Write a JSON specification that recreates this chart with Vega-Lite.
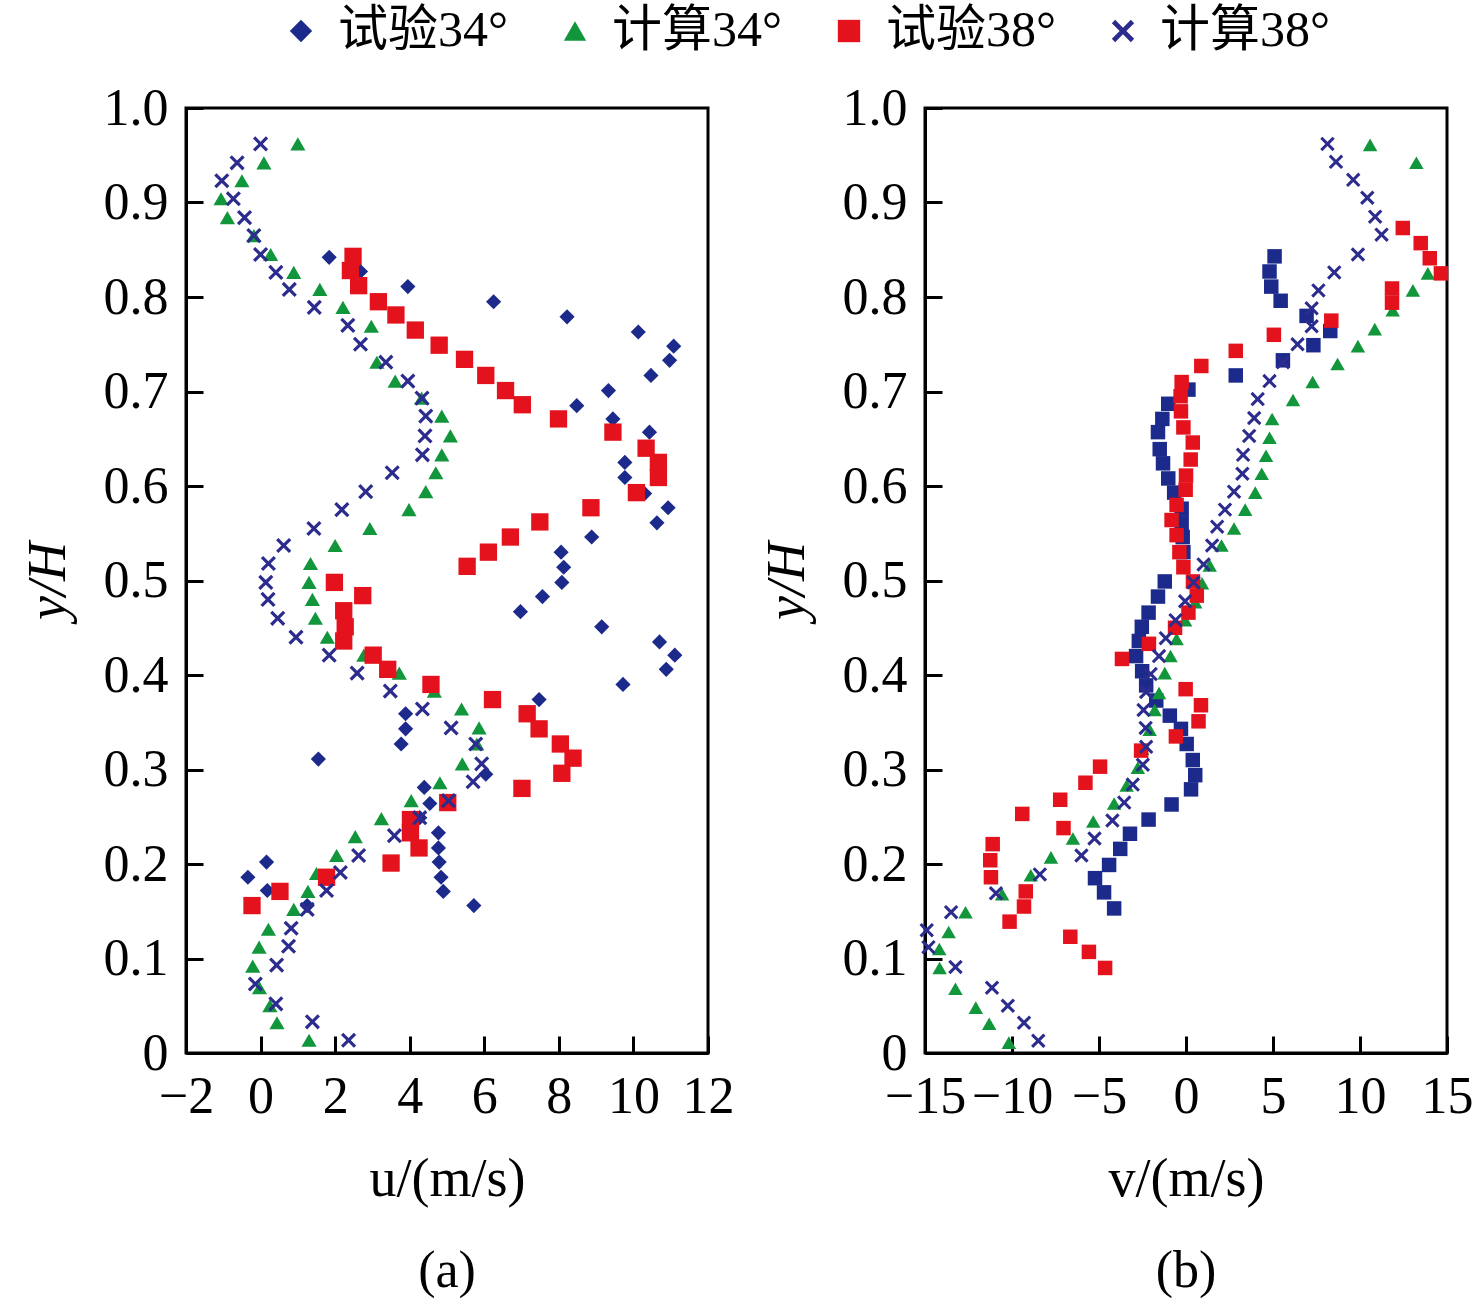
{
  "$schema": "https://vega.github.io/schema/vega-lite/v6.json",
  "description": "Velocity profiles u and v against y/H, test vs. computed, 34° and 38°.",
  "padding": {"left": 19, "top": 6, "right": 5, "bottom": 5},
  "background": "white",
  "config": {
    "view": {"stroke": "black", "strokeWidth": 3},
    "font": "Liberation Serif",
    "axis": {
      "labelFont": "Liberation Serif",
      "labelFontSize": 52,
      "labelColor": "black",
      "titleFont": "Liberation Serif",
      "titleFontSize": 54,
      "titleFontWeight": "normal",
      "titleColor": "black",
      "domainColor": "black",
      "domainWidth": 3,
      "tickColor": "black",
      "tickWidth": 3,
      "tickSize": -17,
      "grid": false,
      "labelFlush": false,
      "labelOverlap": false,
      "labelPadding": 35
    },
    "axisX": {"titlePadding": 30},
    "axisY": {"titlePadding": 28},
    "title": {"font": "Liberation Serif", "fontSize": 52, "fontWeight": "normal", "color": "black"},
    "legend": {
      "orient": "none",
      "legendX": 90,
      "legendY": -102,
      "direction": "horizontal",
      "labelFont": "Liberation Serif, Noto Sans CJK SC",
      "labelFontSize": 50,
      "labelColor": "black",
      "labelLimit": 0,
      "labelOffset": 12,
      "symbolSize": 500,
      "columnPadding": 42,
      "symbolStrokeWidth": 0
    }
  },
  "data": {
    "values": [
      {"p": "a", "s": "试验34°", "x": 1.84, "y": 0.842},
      {"p": "a", "s": "试验34°", "x": 2.68, "y": 0.827},
      {"p": "a", "s": "试验34°", "x": 3.95, "y": 0.811},
      {"p": "a", "s": "试验34°", "x": 6.25, "y": 0.795},
      {"p": "a", "s": "试验34°", "x": 8.22, "y": 0.779},
      {"p": "a", "s": "试验34°", "x": 10.13, "y": 0.763},
      {"p": "a", "s": "试验34°", "x": 11.08, "y": 0.748},
      {"p": "a", "s": "试验34°", "x": 10.97, "y": 0.733},
      {"p": "a", "s": "试验34°", "x": 10.47, "y": 0.717},
      {"p": "a", "s": "试验34°", "x": 9.33, "y": 0.701},
      {"p": "a", "s": "试验34°", "x": 8.48, "y": 0.685},
      {"p": "a", "s": "试验34°", "x": 9.45, "y": 0.671},
      {"p": "a", "s": "试验34°", "x": 10.43, "y": 0.657},
      {"p": "a", "s": "试验34°", "x": 9.77, "y": 0.625},
      {"p": "a", "s": "试验34°", "x": 9.77, "y": 0.609},
      {"p": "a", "s": "试验34°", "x": 10.3, "y": 0.592},
      {"p": "a", "s": "试验34°", "x": 10.93, "y": 0.577},
      {"p": "a", "s": "试验34°", "x": 10.63, "y": 0.561},
      {"p": "a", "s": "试验34°", "x": 8.88, "y": 0.546},
      {"p": "a", "s": "试验34°", "x": 8.06, "y": 0.53},
      {"p": "a", "s": "试验34°", "x": 8.13, "y": 0.514},
      {"p": "a", "s": "试验34°", "x": 8.08, "y": 0.498},
      {"p": "a", "s": "试验34°", "x": 7.56, "y": 0.483},
      {"p": "a", "s": "试验34°", "x": 6.97, "y": 0.467},
      {"p": "a", "s": "试验34°", "x": 9.15, "y": 0.451},
      {"p": "a", "s": "试验34°", "x": 10.7, "y": 0.435},
      {"p": "a", "s": "试验34°", "x": 11.11, "y": 0.421},
      {"p": "a", "s": "试验34°", "x": 10.88, "y": 0.406},
      {"p": "a", "s": "试验34°", "x": 9.72, "y": 0.39},
      {"p": "a", "s": "试验34°", "x": 7.47, "y": 0.374},
      {"p": "a", "s": "试验34°", "x": 3.89, "y": 0.359},
      {"p": "a", "s": "试验34°", "x": 3.89, "y": 0.343},
      {"p": "a", "s": "试验34°", "x": 3.77, "y": 0.327},
      {"p": "a", "s": "试验34°", "x": 1.55, "y": 0.311},
      {"p": "a", "s": "试验34°", "x": 6.04, "y": 0.295},
      {"p": "a", "s": "试验34°", "x": 4.39, "y": 0.281},
      {"p": "a", "s": "试验34°", "x": 4.54, "y": 0.264},
      {"p": "a", "s": "试验34°", "x": 4.27, "y": 0.249},
      {"p": "a", "s": "试验34°", "x": 4.77, "y": 0.233},
      {"p": "a", "s": "试验34°", "x": 4.77, "y": 0.217},
      {"p": "a", "s": "试验34°", "x": 4.79, "y": 0.202},
      {"p": "a", "s": "试验34°", "x": 4.84, "y": 0.186},
      {"p": "a", "s": "试验34°", "x": 4.9, "y": 0.171},
      {"p": "a", "s": "试验34°", "x": 5.72, "y": 0.156},
      {"p": "a", "s": "试验34°", "x": 0.16, "y": 0.202},
      {"p": "a", "s": "试验34°", "x": -0.34, "y": 0.186},
      {"p": "a", "s": "试验34°", "x": 0.18, "y": 0.172},
      {"p": "a", "s": "试验34°", "x": 1.25, "y": 0.156},

      {"p": "a", "s": "计算34°", "x": 1.0, "y": 0.962},
      {"p": "a", "s": "计算34°", "x": 0.09, "y": 0.942},
      {"p": "a", "s": "计算34°", "x": -0.5, "y": 0.923},
      {"p": "a", "s": "计算34°", "x": -1.06, "y": 0.904},
      {"p": "a", "s": "计算34°", "x": -0.89, "y": 0.884},
      {"p": "a", "s": "计算34°", "x": -0.18, "y": 0.865},
      {"p": "a", "s": "计算34°", "x": 0.27, "y": 0.845},
      {"p": "a", "s": "计算34°", "x": 0.89, "y": 0.826},
      {"p": "a", "s": "计算34°", "x": 1.59, "y": 0.808},
      {"p": "a", "s": "计算34°", "x": 2.21, "y": 0.789},
      {"p": "a", "s": "计算34°", "x": 2.97, "y": 0.769},
      {"p": "a", "s": "计算34°", "x": 3.12, "y": 0.731},
      {"p": "a", "s": "计算34°", "x": 3.61, "y": 0.711},
      {"p": "a", "s": "计算34°", "x": 4.32, "y": 0.693},
      {"p": "a", "s": "计算34°", "x": 4.86, "y": 0.674},
      {"p": "a", "s": "计算34°", "x": 5.09, "y": 0.653},
      {"p": "a", "s": "计算34°", "x": 4.86, "y": 0.633},
      {"p": "a", "s": "计算34°", "x": 4.7, "y": 0.614},
      {"p": "a", "s": "计算34°", "x": 4.43, "y": 0.594},
      {"p": "a", "s": "计算34°", "x": 3.98, "y": 0.575},
      {"p": "a", "s": "计算34°", "x": 2.93, "y": 0.555},
      {"p": "a", "s": "计算34°", "x": 2.0, "y": 0.537},
      {"p": "a", "s": "计算34°", "x": 1.34, "y": 0.518},
      {"p": "a", "s": "计算34°", "x": 1.3, "y": 0.498},
      {"p": "a", "s": "计算34°", "x": 1.39, "y": 0.48},
      {"p": "a", "s": "计算34°", "x": 1.47, "y": 0.46},
      {"p": "a", "s": "计算34°", "x": 1.79, "y": 0.44},
      {"p": "a", "s": "计算34°", "x": 2.77, "y": 0.421},
      {"p": "a", "s": "计算34°", "x": 3.72, "y": 0.402},
      {"p": "a", "s": "计算34°", "x": 4.66, "y": 0.383},
      {"p": "a", "s": "计算34°", "x": 5.39, "y": 0.364},
      {"p": "a", "s": "计算34°", "x": 5.86, "y": 0.344},
      {"p": "a", "s": "计算34°", "x": 5.8, "y": 0.327},
      {"p": "a", "s": "计算34°", "x": 5.41, "y": 0.306},
      {"p": "a", "s": "计算34°", "x": 4.81, "y": 0.286},
      {"p": "a", "s": "计算34°", "x": 4.04, "y": 0.267},
      {"p": "a", "s": "计算34°", "x": 3.24, "y": 0.248},
      {"p": "a", "s": "计算34°", "x": 2.54, "y": 0.229},
      {"p": "a", "s": "计算34°", "x": 2.04, "y": 0.209},
      {"p": "a", "s": "计算34°", "x": 1.5, "y": 0.19},
      {"p": "a", "s": "计算34°", "x": 1.27, "y": 0.171},
      {"p": "a", "s": "计算34°", "x": 0.89, "y": 0.152},
      {"p": "a", "s": "计算34°", "x": 0.21, "y": 0.131},
      {"p": "a", "s": "计算34°", "x": -0.04, "y": 0.112},
      {"p": "a", "s": "计算34°", "x": -0.21, "y": 0.092},
      {"p": "a", "s": "计算34°", "x": -0.03, "y": 0.069},
      {"p": "a", "s": "计算34°", "x": 0.25, "y": 0.05},
      {"p": "a", "s": "计算34°", "x": 0.44, "y": 0.032},
      {"p": "a", "s": "计算34°", "x": 1.3, "y": 0.0135},

      {"p": "a", "s": "试验38°", "x": 2.48, "y": 0.843},
      {"p": "a", "s": "试验38°", "x": 2.41, "y": 0.828},
      {"p": "a", "s": "试验38°", "x": 2.63, "y": 0.812},
      {"p": "a", "s": "试验38°", "x": 3.16, "y": 0.795},
      {"p": "a", "s": "试验38°", "x": 3.63, "y": 0.781},
      {"p": "a", "s": "试验38°", "x": 4.15, "y": 0.765},
      {"p": "a", "s": "试验38°", "x": 4.79, "y": 0.749},
      {"p": "a", "s": "试验38°", "x": 5.47, "y": 0.734},
      {"p": "a", "s": "试验38°", "x": 6.04, "y": 0.717},
      {"p": "a", "s": "试验38°", "x": 6.57, "y": 0.701},
      {"p": "a", "s": "试验38°", "x": 7.02, "y": 0.686},
      {"p": "a", "s": "试验38°", "x": 7.99, "y": 0.671},
      {"p": "a", "s": "试验38°", "x": 9.45, "y": 0.657},
      {"p": "a", "s": "试验38°", "x": 10.34, "y": 0.64},
      {"p": "a", "s": "试验38°", "x": 10.67, "y": 0.625},
      {"p": "a", "s": "试验38°", "x": 10.67, "y": 0.609},
      {"p": "a", "s": "试验38°", "x": 10.08, "y": 0.593},
      {"p": "a", "s": "试验38°", "x": 8.86, "y": 0.577},
      {"p": "a", "s": "试验38°", "x": 7.49, "y": 0.562},
      {"p": "a", "s": "试验38°", "x": 6.7, "y": 0.546},
      {"p": "a", "s": "试验38°", "x": 6.11, "y": 0.53},
      {"p": "a", "s": "试验38°", "x": 5.54, "y": 0.515},
      {"p": "a", "s": "试验38°", "x": 1.98, "y": 0.498},
      {"p": "a", "s": "试验38°", "x": 2.74, "y": 0.484},
      {"p": "a", "s": "试验38°", "x": 2.23, "y": 0.468},
      {"p": "a", "s": "试验38°", "x": 2.27, "y": 0.451},
      {"p": "a", "s": "试验38°", "x": 2.23, "y": 0.436},
      {"p": "a", "s": "试验38°", "x": 3.02, "y": 0.421},
      {"p": "a", "s": "试验38°", "x": 3.41, "y": 0.406},
      {"p": "a", "s": "试验38°", "x": 4.57, "y": 0.39},
      {"p": "a", "s": "试验38°", "x": 6.22, "y": 0.374},
      {"p": "a", "s": "试验38°", "x": 7.15, "y": 0.359},
      {"p": "a", "s": "试验38°", "x": 7.47, "y": 0.343},
      {"p": "a", "s": "试验38°", "x": 8.04, "y": 0.327},
      {"p": "a", "s": "试验38°", "x": 8.38, "y": 0.312},
      {"p": "a", "s": "试验38°", "x": 8.08, "y": 0.296},
      {"p": "a", "s": "试验38°", "x": 7.01, "y": 0.28},
      {"p": "a", "s": "试验38°", "x": 5.02, "y": 0.265},
      {"p": "a", "s": "试验38°", "x": 4.02, "y": 0.247},
      {"p": "a", "s": "试验38°", "x": 4.02, "y": 0.233},
      {"p": "a", "s": "试验38°", "x": 4.25, "y": 0.217},
      {"p": "a", "s": "试验38°", "x": 3.5, "y": 0.201},
      {"p": "a", "s": "试验38°", "x": 1.77, "y": 0.186},
      {"p": "a", "s": "试验38°", "x": 0.52, "y": 0.171},
      {"p": "a", "s": "试验38°", "x": -0.23, "y": 0.156},

      {"p": "a", "s": "计算38°", "x": 0.0, "y": 0.962},
      {"p": "a", "s": "计算38°", "x": -0.63, "y": 0.942},
      {"p": "a", "s": "计算38°", "x": -1.04, "y": 0.923},
      {"p": "a", "s": "计算38°", "x": -0.73, "y": 0.904},
      {"p": "a", "s": "计算38°", "x": -0.43, "y": 0.884},
      {"p": "a", "s": "计算38°", "x": -0.18, "y": 0.865},
      {"p": "a", "s": "计算38°", "x": 0.0, "y": 0.845},
      {"p": "a", "s": "计算38°", "x": 0.41, "y": 0.826},
      {"p": "a", "s": "计算38°", "x": 0.77, "y": 0.808},
      {"p": "a", "s": "计算38°", "x": 1.44, "y": 0.789},
      {"p": "a", "s": "计算38°", "x": 2.34, "y": 0.77},
      {"p": "a", "s": "计算38°", "x": 2.68, "y": 0.75},
      {"p": "a", "s": "计算38°", "x": 3.36, "y": 0.731},
      {"p": "a", "s": "计算38°", "x": 3.95, "y": 0.711},
      {"p": "a", "s": "计算38°", "x": 4.33, "y": 0.693},
      {"p": "a", "s": "计算38°", "x": 4.43, "y": 0.674},
      {"p": "a", "s": "计算38°", "x": 4.41, "y": 0.653},
      {"p": "a", "s": "计算38°", "x": 4.34, "y": 0.633},
      {"p": "a", "s": "计算38°", "x": 3.53, "y": 0.614},
      {"p": "a", "s": "计算38°", "x": 2.82, "y": 0.594},
      {"p": "a", "s": "计算38°", "x": 2.18, "y": 0.575},
      {"p": "a", "s": "计算38°", "x": 1.43, "y": 0.555},
      {"p": "a", "s": "计算38°", "x": 0.62, "y": 0.537},
      {"p": "a", "s": "计算38°", "x": 0.21, "y": 0.518},
      {"p": "a", "s": "计算38°", "x": 0.14, "y": 0.498},
      {"p": "a", "s": "计算38°", "x": 0.2, "y": 0.48},
      {"p": "a", "s": "计算38°", "x": 0.46, "y": 0.46},
      {"p": "a", "s": "计算38°", "x": 0.95, "y": 0.44},
      {"p": "a", "s": "计算38°", "x": 1.84, "y": 0.421},
      {"p": "a", "s": "计算38°", "x": 2.59, "y": 0.402},
      {"p": "a", "s": "计算38°", "x": 3.48, "y": 0.383},
      {"p": "a", "s": "计算38°", "x": 4.34, "y": 0.364},
      {"p": "a", "s": "计算38°", "x": 5.11, "y": 0.344},
      {"p": "a", "s": "计算38°", "x": 5.77, "y": 0.327},
      {"p": "a", "s": "计算38°", "x": 5.93, "y": 0.306},
      {"p": "a", "s": "计算38°", "x": 5.7, "y": 0.287},
      {"p": "a", "s": "计算38°", "x": 5.04, "y": 0.267},
      {"p": "a", "s": "计算38°", "x": 4.27, "y": 0.249},
      {"p": "a", "s": "计算38°", "x": 3.59, "y": 0.23},
      {"p": "a", "s": "计算38°", "x": 2.63, "y": 0.209},
      {"p": "a", "s": "计算38°", "x": 2.14, "y": 0.191},
      {"p": "a", "s": "计算38°", "x": 1.77, "y": 0.172},
      {"p": "a", "s": "计算38°", "x": 1.25, "y": 0.152},
      {"p": "a", "s": "计算38°", "x": 0.82, "y": 0.132},
      {"p": "a", "s": "计算38°", "x": 0.75, "y": 0.113},
      {"p": "a", "s": "计算38°", "x": 0.43, "y": 0.093},
      {"p": "a", "s": "计算38°", "x": -0.14, "y": 0.073},
      {"p": "a", "s": "计算38°", "x": 0.41, "y": 0.052},
      {"p": "a", "s": "计算38°", "x": 1.39, "y": 0.033},
      {"p": "a", "s": "计算38°", "x": 2.36, "y": 0.0135},

      {"p": "b", "s": "试验34°", "x": 5.09, "y": 0.843},
      {"p": "b", "s": "试验34°", "x": 4.8, "y": 0.827},
      {"p": "b", "s": "试验34°", "x": 4.9, "y": 0.811},
      {"p": "b", "s": "试验34°", "x": 5.44, "y": 0.796},
      {"p": "b", "s": "试验34°", "x": 6.93, "y": 0.78},
      {"p": "b", "s": "试验34°", "x": 8.29, "y": 0.764},
      {"p": "b", "s": "试验34°", "x": 7.32, "y": 0.749},
      {"p": "b", "s": "试验34°", "x": 5.57, "y": 0.733},
      {"p": "b", "s": "试验34°", "x": 2.86, "y": 0.717},
      {"p": "b", "s": "试验34°", "x": 0.14, "y": 0.702},
      {"p": "b", "s": "试验34°", "x": -1.02, "y": 0.687},
      {"p": "b", "s": "试验34°", "x": -1.36, "y": 0.671},
      {"p": "b", "s": "试验34°", "x": -1.61, "y": 0.657},
      {"p": "b", "s": "试验34°", "x": -1.51, "y": 0.639},
      {"p": "b", "s": "试验34°", "x": -1.32, "y": 0.624},
      {"p": "b", "s": "试验34°", "x": -1.02, "y": 0.608},
      {"p": "b", "s": "试验34°", "x": -0.68, "y": 0.593},
      {"p": "b", "s": "试验34°", "x": -0.25, "y": 0.576},
      {"p": "b", "s": "试验34°", "x": -0.25, "y": 0.561},
      {"p": "b", "s": "试验34°", "x": -0.19, "y": 0.546},
      {"p": "b", "s": "试验34°", "x": -0.15, "y": 0.53},
      {"p": "b", "s": "试验34°", "x": -1.22, "y": 0.499},
      {"p": "b", "s": "试验34°", "x": -1.61, "y": 0.483},
      {"p": "b", "s": "试验34°", "x": -2.15, "y": 0.466},
      {"p": "b", "s": "试验34°", "x": -2.54, "y": 0.451},
      {"p": "b", "s": "试验34°", "x": -2.71, "y": 0.436},
      {"p": "b", "s": "试验34°", "x": -2.87, "y": 0.42},
      {"p": "b", "s": "试验34°", "x": -2.52, "y": 0.404},
      {"p": "b", "s": "试验34°", "x": -2.29, "y": 0.389},
      {"p": "b", "s": "试验34°", "x": -1.71, "y": 0.373},
      {"p": "b", "s": "试验34°", "x": -0.93, "y": 0.357},
      {"p": "b", "s": "试验34°", "x": -0.29, "y": 0.343},
      {"p": "b", "s": "试验34°", "x": 0.04, "y": 0.327},
      {"p": "b", "s": "试验34°", "x": 0.39, "y": 0.31},
      {"p": "b", "s": "试验34°", "x": 0.53, "y": 0.294},
      {"p": "b", "s": "试验34°", "x": 0.29, "y": 0.279},
      {"p": "b", "s": "试验34°", "x": -0.83, "y": 0.263},
      {"p": "b", "s": "试验34°", "x": -2.15, "y": 0.247},
      {"p": "b", "s": "试验34°", "x": -3.22, "y": 0.232},
      {"p": "b", "s": "试验34°", "x": -3.78, "y": 0.216},
      {"p": "b", "s": "试验34°", "x": -4.42, "y": 0.199},
      {"p": "b", "s": "试验34°", "x": -5.23, "y": 0.185},
      {"p": "b", "s": "试验34°", "x": -4.71, "y": 0.17},
      {"p": "b", "s": "试验34°", "x": -4.13, "y": 0.153},

      {"p": "b", "s": "计算34°", "x": 10.58, "y": 0.961},
      {"p": "b", "s": "计算34°", "x": 13.24, "y": 0.942},
      {"p": "b", "s": "计算34°", "x": 13.9, "y": 0.825},
      {"p": "b", "s": "计算34°", "x": 13.04, "y": 0.807},
      {"p": "b", "s": "计算34°", "x": 11.88, "y": 0.786},
      {"p": "b", "s": "计算34°", "x": 10.85, "y": 0.766},
      {"p": "b", "s": "计算34°", "x": 9.88, "y": 0.748},
      {"p": "b", "s": "计算34°", "x": 8.71, "y": 0.729},
      {"p": "b", "s": "计算34°", "x": 7.28, "y": 0.71},
      {"p": "b", "s": "计算34°", "x": 6.15, "y": 0.691},
      {"p": "b", "s": "计算34°", "x": 4.95, "y": 0.671},
      {"p": "b", "s": "计算34°", "x": 4.8, "y": 0.651},
      {"p": "b", "s": "计算34°", "x": 4.6, "y": 0.632},
      {"p": "b", "s": "计算34°", "x": 4.35, "y": 0.613},
      {"p": "b", "s": "计算34°", "x": 3.98, "y": 0.593},
      {"p": "b", "s": "计算34°", "x": 3.4, "y": 0.575},
      {"p": "b", "s": "计算34°", "x": 2.76, "y": 0.555},
      {"p": "b", "s": "计算34°", "x": 2.04, "y": 0.537},
      {"p": "b", "s": "计算34°", "x": 1.36, "y": 0.516},
      {"p": "b", "s": "计算34°", "x": 0.92, "y": 0.497},
      {"p": "b", "s": "计算34°", "x": 0.53, "y": 0.477},
      {"p": "b", "s": "计算34°", "x": -0.05, "y": 0.458},
      {"p": "b", "s": "计算34°", "x": -0.54, "y": 0.438},
      {"p": "b", "s": "计算34°", "x": -0.89, "y": 0.42},
      {"p": "b", "s": "计算34°", "x": -1.22, "y": 0.402},
      {"p": "b", "s": "计算34°", "x": -1.55, "y": 0.381},
      {"p": "b", "s": "计算34°", "x": -1.8, "y": 0.363},
      {"p": "b", "s": "计算34°", "x": -2.09, "y": 0.342},
      {"p": "b", "s": "计算34°", "x": -2.52, "y": 0.322},
      {"p": "b", "s": "计算34°", "x": -2.77, "y": 0.302},
      {"p": "b", "s": "计算34°", "x": -3.41, "y": 0.283},
      {"p": "b", "s": "计算34°", "x": -4.13, "y": 0.264},
      {"p": "b", "s": "计算34°", "x": -5.33, "y": 0.245},
      {"p": "b", "s": "计算34°", "x": -6.5, "y": 0.227},
      {"p": "b", "s": "计算34°", "x": -7.76, "y": 0.207},
      {"p": "b", "s": "计算34°", "x": -8.92, "y": 0.188},
      {"p": "b", "s": "计算34°", "x": -10.57, "y": 0.168},
      {"p": "b", "s": "计算34°", "x": -12.67, "y": 0.149},
      {"p": "b", "s": "计算34°", "x": -13.64, "y": 0.128},
      {"p": "b", "s": "计算34°", "x": -14.18, "y": 0.11},
      {"p": "b", "s": "计算34°", "x": -14.16, "y": 0.09},
      {"p": "b", "s": "计算34°", "x": -13.25, "y": 0.068},
      {"p": "b", "s": "计算34°", "x": -12.08, "y": 0.048},
      {"p": "b", "s": "计算34°", "x": -11.31, "y": 0.031},
      {"p": "b", "s": "计算34°", "x": -10.18, "y": 0.011},

      {"p": "b", "s": "试验38°", "x": 12.46, "y": 0.873},
      {"p": "b", "s": "试验38°", "x": 13.49, "y": 0.857},
      {"p": "b", "s": "试验38°", "x": 14.01, "y": 0.841},
      {"p": "b", "s": "试验38°", "x": 14.65, "y": 0.825},
      {"p": "b", "s": "试验38°", "x": 11.84, "y": 0.809},
      {"p": "b", "s": "试验38°", "x": 11.84, "y": 0.794},
      {"p": "b", "s": "试验38°", "x": 8.35, "y": 0.775},
      {"p": "b", "s": "试验38°", "x": 5.05, "y": 0.76},
      {"p": "b", "s": "试验38°", "x": 2.86, "y": 0.743},
      {"p": "b", "s": "试验38°", "x": 0.88, "y": 0.727},
      {"p": "b", "s": "试验38°", "x": -0.25, "y": 0.71},
      {"p": "b", "s": "试验38°", "x": -0.31, "y": 0.695},
      {"p": "b", "s": "试验38°", "x": -0.29, "y": 0.679},
      {"p": "b", "s": "试验38°", "x": -0.15, "y": 0.662},
      {"p": "b", "s": "试验38°", "x": 0.39, "y": 0.646},
      {"p": "b", "s": "试验38°", "x": 0.27, "y": 0.628},
      {"p": "b", "s": "试验38°", "x": 0.0, "y": 0.611},
      {"p": "b", "s": "试验38°", "x": -0.02, "y": 0.596},
      {"p": "b", "s": "试验38°", "x": -0.54, "y": 0.58},
      {"p": "b", "s": "试验38°", "x": -0.83, "y": 0.564},
      {"p": "b", "s": "试验38°", "x": -0.54, "y": 0.548},
      {"p": "b", "s": "试验38°", "x": -0.38, "y": 0.53},
      {"p": "b", "s": "试验38°", "x": -0.15, "y": 0.514},
      {"p": "b", "s": "试验38°", "x": 0.4, "y": 0.499},
      {"p": "b", "s": "试验38°", "x": 0.62, "y": 0.484},
      {"p": "b", "s": "试验38°", "x": 0.14, "y": 0.466},
      {"p": "b", "s": "试验38°", "x": -0.63, "y": 0.45},
      {"p": "b", "s": "试验38°", "x": -2.13, "y": 0.433},
      {"p": "b", "s": "试验38°", "x": -3.68, "y": 0.417},
      {"p": "b", "s": "试验38°", "x": -0.02, "y": 0.385},
      {"p": "b", "s": "试验38°", "x": 0.86, "y": 0.368},
      {"p": "b", "s": "试验38°", "x": 0.72, "y": 0.351},
      {"p": "b", "s": "试验38°", "x": -0.58, "y": 0.335},
      {"p": "b", "s": "试验38°", "x": -2.58, "y": 0.32},
      {"p": "b", "s": "试验38°", "x": -4.94, "y": 0.303},
      {"p": "b", "s": "试验38°", "x": -5.78, "y": 0.286},
      {"p": "b", "s": "试验38°", "x": -7.23, "y": 0.268},
      {"p": "b", "s": "试验38°", "x": -9.41, "y": 0.253},
      {"p": "b", "s": "试验38°", "x": -7.04, "y": 0.238},
      {"p": "b", "s": "试验38°", "x": -11.11, "y": 0.221},
      {"p": "b", "s": "试验38°", "x": -11.25, "y": 0.204},
      {"p": "b", "s": "试验38°", "x": -11.21, "y": 0.186},
      {"p": "b", "s": "试验38°", "x": -9.21, "y": 0.171},
      {"p": "b", "s": "试验38°", "x": -9.31, "y": 0.155},
      {"p": "b", "s": "试验38°", "x": -10.14, "y": 0.139},
      {"p": "b", "s": "试验38°", "x": -6.65, "y": 0.123},
      {"p": "b", "s": "试验38°", "x": -5.58, "y": 0.107},
      {"p": "b", "s": "试验38°", "x": -4.65, "y": 0.09},

      {"p": "b", "s": "计算38°", "x": 8.13, "y": 0.962},
      {"p": "b", "s": "计算38°", "x": 8.62, "y": 0.943},
      {"p": "b", "s": "计算38°", "x": 9.61, "y": 0.924},
      {"p": "b", "s": "计算38°", "x": 10.42, "y": 0.905},
      {"p": "b", "s": "计算38°", "x": 10.87, "y": 0.885},
      {"p": "b", "s": "计算38°", "x": 11.24, "y": 0.866},
      {"p": "b", "s": "计算38°", "x": 9.88, "y": 0.845},
      {"p": "b", "s": "计算38°", "x": 8.52, "y": 0.826},
      {"p": "b", "s": "计算38°", "x": 7.61, "y": 0.807},
      {"p": "b", "s": "计算38°", "x": 7.22, "y": 0.788},
      {"p": "b", "s": "计算38°", "x": 7.22, "y": 0.769},
      {"p": "b", "s": "计算38°", "x": 6.41, "y": 0.75},
      {"p": "b", "s": "计算38°", "x": 5.57, "y": 0.731},
      {"p": "b", "s": "计算38°", "x": 4.8, "y": 0.711},
      {"p": "b", "s": "计算38°", "x": 4.12, "y": 0.692},
      {"p": "b", "s": "计算38°", "x": 3.92, "y": 0.672},
      {"p": "b", "s": "计算38°", "x": 3.63, "y": 0.653},
      {"p": "b", "s": "计算38°", "x": 3.28, "y": 0.633},
      {"p": "b", "s": "计算38°", "x": 3.24, "y": 0.613},
      {"p": "b", "s": "计算38°", "x": 2.76, "y": 0.594},
      {"p": "b", "s": "计算38°", "x": 2.24, "y": 0.575},
      {"p": "b", "s": "计算38°", "x": 1.79, "y": 0.557},
      {"p": "b", "s": "计算38°", "x": 1.5, "y": 0.537},
      {"p": "b", "s": "计算38°", "x": 1.01, "y": 0.517},
      {"p": "b", "s": "计算38°", "x": 0.43, "y": 0.498},
      {"p": "b", "s": "计算38°", "x": -0.05, "y": 0.478},
      {"p": "b", "s": "计算38°", "x": -0.6, "y": 0.458},
      {"p": "b", "s": "计算38°", "x": -1.16, "y": 0.439},
      {"p": "b", "s": "计算38°", "x": -1.55, "y": 0.42},
      {"p": "b", "s": "计算38°", "x": -2.03, "y": 0.401},
      {"p": "b", "s": "计算38°", "x": -2.29, "y": 0.382},
      {"p": "b", "s": "计算38°", "x": -2.44, "y": 0.363},
      {"p": "b", "s": "计算38°", "x": -2.32, "y": 0.344},
      {"p": "b", "s": "计算38°", "x": -2.29, "y": 0.324},
      {"p": "b", "s": "计算38°", "x": -2.48, "y": 0.305},
      {"p": "b", "s": "计算38°", "x": -3.06, "y": 0.284},
      {"p": "b", "s": "计算38°", "x": -3.55, "y": 0.265},
      {"p": "b", "s": "计算38°", "x": -4.23, "y": 0.246},
      {"p": "b", "s": "计算38°", "x": -5.26, "y": 0.227},
      {"p": "b", "s": "计算38°", "x": -6.01, "y": 0.209},
      {"p": "b", "s": "计算38°", "x": -8.4, "y": 0.189},
      {"p": "b", "s": "计算38°", "x": -10.92, "y": 0.169},
      {"p": "b", "s": "计算38°", "x": -13.5, "y": 0.149},
      {"p": "b", "s": "计算38°", "x": -14.9, "y": 0.13},
      {"p": "b", "s": "计算38°", "x": -14.8, "y": 0.112},
      {"p": "b", "s": "计算38°", "x": -13.25, "y": 0.091},
      {"p": "b", "s": "计算38°", "x": -11.15, "y": 0.069},
      {"p": "b", "s": "计算38°", "x": -10.24, "y": 0.05},
      {"p": "b", "s": "计算38°", "x": -9.31, "y": 0.032},
      {"p": "b", "s": "计算38°", "x": -8.49, "y": 0.013}
    ]
  },
  "spacing": 217,
  "bounds": "flush",
  "hconcat": [
    {
      "width": 522,
      "height": 945,
      "title": {"text": "(a)", "orient": "bottom", "offset": 40},
      "transform": [{"filter": "datum.p === 'a'"}],
      "mark": {"type": "point", "filled": true, "opacity": 1},
      "encoding": {
        "x": {
          "field": "x",
          "type": "quantitative",
          "scale": {"domain": [-2, 12], "nice": false, "zero": false},
          "axis": {"title": "u/(m/s)", "values": [-2, 0, 2, 4, 6, 8, 10, 12]}
        },
        "y": {
          "field": "y",
          "type": "quantitative",
          "scale": {"domain": [0, 1], "nice": false},
          "axis": {
            "title": "y/H",
            "titleFontStyle": "italic",
            "values": [0, 0.1, 0.2, 0.3, 0.4, 0.5, 0.6, 0.7, 0.8, 0.9, 1.0],
            "labelExpr": "datum.value === 0 ? '0' : format(datum.value, '.1f')"
          }
        },
        "color": {
          "field": "s",
          "type": "nominal",
          "scale": {
            "domain": ["试验34°", "计算34°", "试验38°", "计算38°"],
            "range": ["#1c2a8c", "#12963c", "#e4121c", "#2c2c8e"]
          },
          "legend": {"title": null}
        },
        "shape": {
          "field": "s",
          "type": "nominal",
          "scale": {
            "domain": ["试验34°", "计算34°", "试验38°", "计算38°"],
            "range": ["diamond", "triangle-up", "square", "M-1,-0.7L-0.7,-1L0,-0.3L0.7,-1L1,-0.7L0.3,0L1,0.7L0.7,1L0,0.3L-0.7,1L-1,0.7L-0.3,0Z"]
          },
          "legend": {"title": null}
        },
        "size": {"condition": {"test": "datum.s === '试验38°'", "value": 300}, "value": 230}
      }
    },
    {
      "width": 522,
      "height": 945,
      "title": {"text": "(b)", "orient": "bottom", "offset": 40},
      "transform": [{"filter": "datum.p === 'b'"}],
      "mark": {"type": "point", "filled": true, "opacity": 1},
      "encoding": {
        "x": {
          "field": "x",
          "type": "quantitative",
          "scale": {"domain": [-15, 15], "nice": false, "zero": false},
          "axis": {"title": "v/(m/s)", "values": [-15, -10, -5, 0, 5, 10, 15]}
        },
        "y": {
          "field": "y",
          "type": "quantitative",
          "scale": {"domain": [0, 1], "nice": false},
          "axis": {
            "title": "y/H",
            "titleFontStyle": "italic",
            "values": [0, 0.1, 0.2, 0.3, 0.4, 0.5, 0.6, 0.7, 0.8, 0.9, 1.0],
            "labelExpr": "datum.value === 0 ? '0' : format(datum.value, '.1f')"
          }
        },
        "color": {
          "field": "s",
          "type": "nominal",
          "legend": {"title": null}
        },
        "shape": {
          "condition": {"test": "datum.s === '试验34°'", "value": "square"},
          "field": "s",
          "type": "nominal",
          "legend": {"title": null}
        },
        "size": {"value": 210}
      }
    }
  ]
}
